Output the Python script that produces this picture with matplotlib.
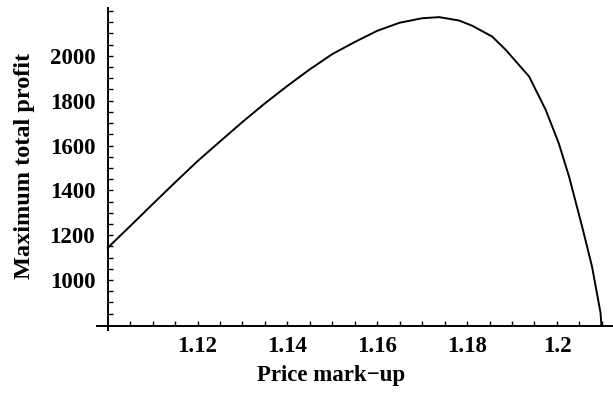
import numpy as np
import matplotlib.pyplot as plt
from matplotlib.ticker import FixedLocator

# price mark-up vs maximum total profit
markup = [1.100, 1.105, 1.110, 1.115, 1.120, 1.125, 1.130, 1.135, 1.140,
          1.145, 1.150, 1.155, 1.160, 1.165, 1.170, 1.1738, 1.1782, 1.1812,
          1.1856, 1.1886, 1.1938, 1.1975, 1.2004, 1.2027, 1.2056, 1.2078,
          1.2097, 1.2099]
profit = [1143, 1240, 1338, 1435, 1530, 1618, 1705, 1788, 1866,
          1940, 2008, 2062, 2112, 2148, 2168, 2173, 2158, 2134,
          2086, 2027, 1908, 1759, 1610, 1461, 1238, 1060,
          853, 795]

xticks = [1.12, 1.14, 1.16, 1.18, 1.20]
xtick_labels = ['1.12', '1.14', '1.16', '1.18', '1.2']
yticks = [1000, 1200, 1400, 1600, 1800, 2000]

plt.rcParams['font.family'] = ['Liberation Serif', 'DejaVu Serif']
plt.rcParams['font.weight'] = 'bold'

fig = plt.figure(figsize=(6.13, 3.97), dpi=100)
ax = fig.add_axes([0.158, 0.169, 0.84, 0.811])

ax.plot(markup, profit, color='black', lw=1.4)

ax.set_xlim(1.0976, 1.2122)
ax.set_ylim(777, 2214)

# mathematica-style crossing axes
ax.spines['left'].set_position(('data', 1.10))
ax.spines['bottom'].set_position(('data', 795))
ax.spines['right'].set_visible(False)
ax.spines['top'].set_visible(False)
for s in ['left', 'bottom']:
    ax.spines[s].set_linewidth(1.4)

ax.set_xticks(xticks)
ax.set_xticklabels(xtick_labels)
ax.set_yticks(yticks)
ax.xaxis.set_minor_locator(FixedLocator(np.arange(1.105, 1.211, 0.005)))
ax.yaxis.set_minor_locator(FixedLocator(np.arange(850, 2201, 50)))

ax.tick_params(which='both', direction='in', length=3.5, width=1.0, labelsize=16.5)
ax.tick_params(axis='x', pad=7)
ax.tick_params(axis='y', pad=9)

ax.set_xlabel('Price mark\u2212up', fontsize=16.5, fontweight='bold')
ax.xaxis.set_label_coords(0.455, -0.11)
ax.set_ylabel('Maximum total profit', fontsize=17.5, fontweight='bold')
ax.yaxis.set_label_coords(-0.12, 0.51)

plt.savefig('out.png', dpi=100)
